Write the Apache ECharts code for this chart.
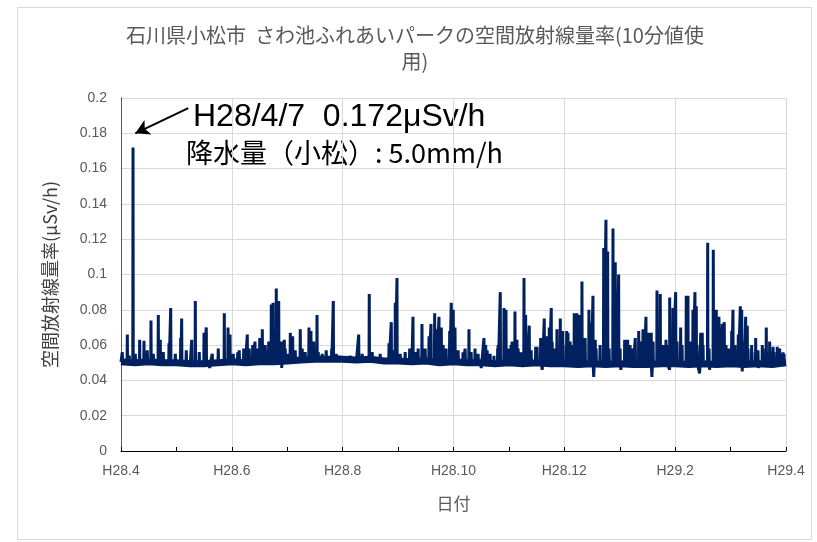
<!DOCTYPE html>
<html>
<head>
<meta charset="utf-8">
<script src="https://cdn.jsdelivr.net/npm/echarts@6/dist/echarts.min.js"></script>
<style>
  html, body { margin: 0; padding: 0; background: #fff; }
  #chart { width: 817px; height: 542px; }
</style>
</head>
<body>
<div id="chart"></div>
<script>
// 横軸: H28.4 からの経過月数 (0 = H28/4/1, 12 = H29/4/1)
const monthLabels = ['H28.4', 'H28.5', 'H28.6', 'H28.7', 'H28.8', 'H28.9', 'H28.10',
  'H28.11', 'H28.12', 'H29.1', 'H29.2', 'H29.3', 'H29.4']
const yTicks = [0, 0.02, 0.04, 0.06, 0.08, 0.1, 0.12, 0.14, 0.16, 0.18, 0.2]

// 平常時の線量率 (0.25か月ごと、図から読み取り)
const baseStep = 0.25
const baseVal = [
  0.0505, 0.0500, 0.0505, 0.0500, 0.0500, 0.0495, 0.0495, 0.0500,
  0.0505, 0.0500, 0.0505, 0.0505, 0.0510, 0.0515, 0.0520, 0.0520,
  0.0520, 0.0515, 0.0520, 0.0510, 0.0510, 0.0505, 0.0510, 0.0500,
  0.0505, 0.0500, 0.0500, 0.0495, 0.0500, 0.0495, 0.0500, 0.0495,
  0.0495, 0.0490, 0.0495, 0.0490, 0.0495, 0.0490, 0.0490, 0.0495,
  0.0495, 0.0490, 0.0495, 0.0490, 0.0495, 0.0490, 0.0495, 0.0490, 0.0500
]

// 降雨時のピーク (時刻: 経過月数, 値: μSv/h)
const spikeT = [
  0.114, 0.217, 0.337, 0.415, 0.541, 0.673, 0.709, 0.866, 0.897, 1.077,
  1.095, 1.276, 1.341, 1.498, 1.539, 1.864, 1.931, 1.967, 2.106, 2.214,
  2.279, 2.376, 2.418, 2.454, 2.503, 2.550, 2.665, 2.712, 2.743, 2.802,
  2.846, 2.900, 2.947, 3.055, 3.098, 3.235, 3.392, 3.428, 3.477, 3.537,
  3.802, 3.831, 3.939, 4.289, 4.480, 4.836, 4.877, 4.949, 4.980, 5.209,
  5.269, 5.431, 5.558, 5.594, 5.660, 5.702, 5.738, 5.780, 5.931, 5.960,
  5.996, 6.027, 6.171, 6.279, 6.388, 6.550, 6.581, 6.730, 6.797, 6.844,
  6.911, 6.947, 7.037, 7.109, 7.145, 7.218, 7.272, 7.302, 7.367, 7.483,
  7.573, 7.638, 7.681, 7.728, 7.764, 7.867, 7.927, 7.970, 8.042, 8.066,
  8.179, 8.228, 8.264, 8.318, 8.444, 8.468, 8.517, 8.558, 8.710, 8.751,
  8.782, 8.878, 8.919, 8.950, 8.980, 9.089, 9.143, 9.280, 9.342, 9.419,
  9.473, 9.522, 9.569, 9.672, 9.731, 9.834, 9.901, 9.960, 10.009, 10.099,
  10.200, 10.231, 10.321, 10.357, 10.381, 10.461, 10.489, 10.587, 10.688,
  10.742, 10.790, 10.850, 10.886, 11.020, 11.043, 11.139, 11.176, 11.201,
  11.272, 11.301, 11.380, 11.453, 11.572, 11.644, 11.705, 11.767, 11.842,
  11.886, 11.946
]
const spikePeak = [
  0.066, 0.172, 0.063, 0.0625, 0.074, 0.077, 0.063, 0.061, 0.081, 0.064,
  0.075, 0.063, 0.085, 0.067, 0.070, 0.078, 0.070, 0.066, 0.056, 0.058,
  0.066, 0.060, 0.062, 0.058, 0.064, 0.069, 0.062, 0.083, 0.084, 0.092,
  0.085, 0.062, 0.063, 0.067, 0.065, 0.069, 0.070, 0.068, 0.062, 0.077,
  0.058, 0.085, 0.054, 0.066, 0.089, 0.061, 0.073, 0.084, 0.098, 0.058,
  0.076, 0.072, 0.065, 0.072, 0.078, 0.069, 0.076, 0.070, 0.068, 0.084,
  0.080, 0.070, 0.056, 0.069, 0.058, 0.064, 0.060, 0.054, 0.058, 0.090,
  0.081, 0.080, 0.060, 0.079, 0.063, 0.056, 0.098, 0.077, 0.071, 0.059,
  0.064, 0.075, 0.065, 0.070, 0.081, 0.069, 0.075, 0.068, 0.068, 0.067,
  0.078, 0.078, 0.077, 0.096, 0.080, 0.073, 0.088, 0.063, 0.115, 0.131,
  0.113, 0.126, 0.107, 0.084, 0.100, 0.063, 0.063, 0.064, 0.068, 0.069,
  0.076, 0.067, 0.067, 0.091, 0.089, 0.063, 0.087, 0.081, 0.090, 0.070,
  0.088, 0.088, 0.080, 0.090, 0.082, 0.067, 0.067, 0.118, 0.114,
  0.080, 0.076, 0.072, 0.073, 0.068, 0.080, 0.066, 0.082, 0.080,
  0.076, 0.071, 0.060, 0.064, 0.060, 0.070, 0.062, 0.059, 0.059,
  0.058, 0.056
]

// 小さな変動 (時刻: 経過月数, 値: μSv/h)
const bumpT = [
  0.023, 0.150, 0.258, 0.474, 0.583, 0.763, 0.980, 1.178, 1.412, 1.647,
  1.755, 2.026, 2.134, 2.242, 2.314, 2.567, 2.603, 2.657, 2.964, 3.000,
  3.144, 3.270, 3.324, 3.559, 3.631, 3.703, 3.883, 4.136, 4.352, 4.533,
  4.677, 4.893, 5.038, 5.128, 5.308, 5.362, 5.489, 5.597, 5.813, 5.867,
  6.084, 6.210, 6.318, 6.444, 6.607, 6.661, 6.805, 6.986, 7.058, 7.166,
  7.329, 7.401, 7.509, 7.581, 7.780, 7.816, 7.978, 8.104, 8.122, 8.194,
  8.339, 8.375, 8.483, 8.573, 8.645, 8.808, 9.006, 9.096, 9.186, 9.240,
  9.367, 9.439, 9.511, 9.601, 9.745, 9.781, 9.854, 10.034, 10.124, 10.268,
  10.395, 10.503, 10.611, 10.701, 10.810, 10.918, 10.972, 11.080, 11.206,
  11.314, 11.386, 11.494, 11.584, 11.656, 11.782, 11.891, 11.963
]
const bumpVal = [
  0.056, 0.054, 0.055, 0.057, 0.055, 0.056, 0.055, 0.057, 0.056, 0.055,
  0.058, 0.055, 0.057, 0.054, 0.058, 0.057, 0.060, 0.057, 0.058, 0.055,
  0.057, 0.058, 0.056, 0.056, 0.055, 0.057, 0.055, 0.054, 0.055, 0.056,
  0.055, 0.057, 0.055, 0.056, 0.056, 0.058, 0.058, 0.060, 0.060, 0.058,
  0.057, 0.058, 0.056, 0.055, 0.057, 0.055, 0.060, 0.058, 0.062, 0.058,
  0.060, 0.057, 0.059, 0.060, 0.062, 0.058, 0.060, 0.062, 0.060, 0.065,
  0.062, 0.064, 0.060, 0.058, 0.060, 0.058, 0.058, 0.060, 0.060, 0.058,
  0.062, 0.058, 0.060, 0.062, 0.058, 0.060, 0.060, 0.062, 0.060, 0.062,
  0.060, 0.060, 0.058, 0.060, 0.062, 0.060, 0.058, 0.060, 0.062,
  0.058, 0.056, 0.057, 0.058, 0.056, 0.056, 0.055, 0.055
]

// 低下箇所
const dipT = [1.60, 2.90, 6.50, 7.60, 8.53, 9.02, 9.58, 9.90, 10.44, 10.62, 11.21, 11.50]
const dipVal = [0.047, 0.047, 0.047, 0.046, 0.042, 0.046, 0.042, 0.046, 0.044, 0.046, 0.045, 0.047]

const baseAt = (t) => baseVal[Math.min(baseVal.length - 1, Math.round(t / baseStep))]

const basePts = baseVal.map((v, i) => [i * baseStep, v])
const linePts = basePts.slice()
const addPeak = (t, v, w) => {
  const b = baseAt(t)
  linePts.push([t - w, b], [t, v], [t + w, b])
}
spikeT.forEach((t, i) => addPeak(t, spikePeak[i], 0.004))
bumpT.forEach((t, i) => addPeak(t, bumpVal[i], 0.006))
dipT.forEach((t, i) => addPeak(t, dipVal[i], 0.01))
linePts.sort((a, b) => a[0] - b[0])

const lineColor = '#002060'
const textColor = '#595959'
const cjk = '"Noto Sans CJK JP", "Noto Sans", sans-serif'
const latin = '"Liberation Sans", Arial, sans-serif'

const chart = echarts.init(document.getElementById('chart'), null, { renderer: 'canvas' })

chart.setOption({
  backgroundColor: '#fff',
  animation: false,
  grid: { left: 121, right: 31, top: 98, bottom: 91 },
  graphic: [
    {
      type: 'rect', left: 15, top: 5, silent: true,
      shape: { width: 794, height: 532 },
      style: { fill: 'none', stroke: '#d9d9d9', lineWidth: 1 }
    },
    {
      type: 'text', x: 415, y: 22, silent: true,
      style: {
        text: '石川県小松市  さわ池ふれあいパークの空間放射線量率(10分値使\n用)',
        font: '20px ' + cjk, fill: textColor, align: 'center', lineHeight: 26
      }
    },
    {
      type: 'text', x: 193, y: 101, silent: true,
      style: { text: 'H28/4/7  0.172μSv/h', font: '32px ' + latin, fill: '#000' }
    },
    {
      type: 'text', x: 186, y: 139, silent: true,
      style: { text: '降水量（小松）: 5.0mm/h', font: '27px ' + cjk, fill: '#000' }
    }
  ],
  xAxis: [
    {
      type: 'value', min: 0, max: 12, interval: 1,
      name: '日付', nameLocation: 'middle', nameGap: 44,
      nameTextStyle: { fontFamily: cjk, fontSize: 17, color: textColor },
      axisLine: { show: true, onZero: false, lineStyle: { color: '#000', width: 1 } },
      axisTick: { show: true, inside: true, length: 4, lineStyle: { color: '#000' } },
      axisLabel: {
        margin: 13, fontFamily: latin, fontSize: 14, color: textColor,
        formatter: (v) => (Math.round(v) % 2 === 0 ? monthLabels[Math.round(v)] : '')
      },
      splitLine: { show: false }
    },
    {
      type: 'value', min: 0, max: 12, interval: 2, position: 'bottom',
      axisLine: { show: false }, axisTick: { show: false }, axisLabel: { show: false },
      splitLine: { show: true, lineStyle: { color: '#d9d9d9', width: 1 } }
    }
  ],
  yAxis: [
    {
      type: 'value', min: yTicks[0], max: yTicks[yTicks.length - 1], interval: 0.02,
      name: '空間放射線量率(μSv/h)', nameLocation: 'middle', nameGap: 62, nameRotate: 90,
      nameTextStyle: { fontFamily: cjk, fontSize: 18, color: '#404040' },
      axisLine: { show: true, lineStyle: { color: '#000', width: 1 } },
      axisTick: { show: false },
      axisLabel: { margin: 14, fontFamily: latin, fontSize: 14, color: textColor },
      splitLine: { show: true, lineStyle: { color: '#d9d9d9', width: 1 } }
    },
    {
      type: 'value', min: 0, max: 0.2, position: 'right',
      axisLine: { show: true, lineStyle: { color: '#595959', width: 1 } },
      axisTick: { show: false }, axisLabel: { show: false }, splitLine: { show: false }
    }
  ],
  series: [
    {
      name: 'base', type: 'line', xAxisIndex: 0, yAxisIndex: 0,
      showSymbol: false, silent: true,
      lineStyle: { color: lineColor, width: 7 },
      data: basePts
    },
    {
      name: '空間放射線量率', type: 'line', xAxisIndex: 0, yAxisIndex: 0,
      showSymbol: false, silent: true,
      lineStyle: { color: lineColor, width: 3 },
      data: linePts,
      markLine: {
        silent: true,
        symbol: ['none', 'arrow'], symbolSize: [12, 14],
        label: { show: false },
        lineStyle: { color: '#000', width: 2, type: 'solid' },
        data: [[{ coord: [1.214, 0.1943] }, { coord: [0.258, 0.18] }]]
      }
    }
  ]
})
</script>
</body>
</html>
